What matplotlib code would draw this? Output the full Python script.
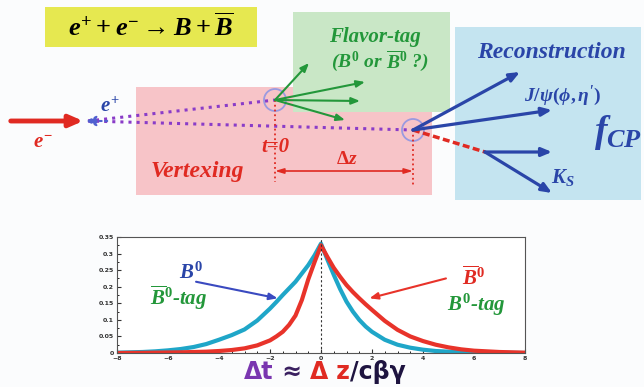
import matplotlib
matplotlib.use("Agg")
import matplotlib.pyplot as plt
from matplotlib.patches import Rectangle, Circle

plt.rcParams['mathtext.fontset'] = 'custom'
plt.rcParams['mathtext.rm'] = 'Liberation Serif:bold'
plt.rcParams['mathtext.it'] = 'Liberation Serif:bold:italic'
plt.rcParams['mathtext.bf'] = 'Liberation Serif:bold'

# ---- data ----
dt = [-8, -7.5, -7, -6.5, -6, -5.5, -5, -4.5, -4, -3.5, -3, -2.5, -2, -1.75, -1.5,
      -1.25, -1, -0.75, -0.5, -0.25, 0, 0.25, 0.5, 0.75, 1, 1.25, 1.5, 1.75, 2,
      2.5, 3, 3.5, 4, 4.5, 5, 5.5, 6, 6.5, 7, 7.5, 8]
b0_antitag = [0.001, 0.002, 0.003, 0.005, 0.008, 0.012, 0.018, 0.027, 0.040, 0.054,
              0.071, 0.098, 0.134, 0.154, 0.175, 0.195, 0.215, 0.240, 0.265, 0.295,
              0.330, 0.282, 0.236, 0.193, 0.155, 0.125, 0.100, 0.080, 0.064, 0.040,
              0.025, 0.016, 0.010, 0.006, 0.004, 0.003, 0.002, 0.0015, 0.001, 0.0005,
              0.000]
b0bar_tag = [0.000, 0.0003, 0.0005, 0.001, 0.0015, 0.002, 0.003, 0.004, 0.006, 0.009,
             0.014, 0.023, 0.038, 0.050, 0.064, 0.085, 0.113, 0.160, 0.222, 0.275,
             0.325, 0.290, 0.257, 0.230, 0.205, 0.184, 0.165, 0.147, 0.130, 0.097,
             0.070, 0.050, 0.036, 0.025, 0.017, 0.011, 0.007, 0.005, 0.003, 0.002,
             0.001]
xticks = [-8, -6, -4, -2, 0, 2, 4, 6, 8]
yticks = [0, 0.05, 0.1, 0.15, 0.2, 0.25, 0.3, 0.35]
ytick_labels = ['0', '0.05', '0.1', '0.15', '0.2', '0.25', '0.3', '0.35']

W, H = 644, 387
fig = plt.figure(figsize=(W / 100, H / 100), dpi=100, facecolor='#fbfcfd')
ax0 = fig.add_axes([0, 0, 1, 1])
ax0.set_xlim(0, W)
ax0.set_ylim(H, 0)
ax0.axis('off')
ax0.set_facecolor('none')

RED = '#e02a22'
BLUE = '#2a45a8'
GREEN = '#23973a'
PURPLE = '#8a3cc8'
SERIF = dict(family='Liberation Serif', weight='bold', style='italic')

# boxes
ax0.add_patch(Rectangle((45, 7), 212, 40, fc='#e6e850', ec='none'))
ax0.add_patch(Rectangle((136, 87), 296, 108, fc='#f7c4c8', ec='none'))
ax0.add_patch(Rectangle((293, 12), 157, 100, fc='#c9e7c6', ec='none'))
ax0.add_patch(Rectangle((455, 27), 186, 173, fc='#c4e4f0', ec='none'))

ax0.text(151, 28, r'$e^{+}+e^{-}\rightarrow B+\overline{B}$', fontsize=19,
         ha='center', va='center', color='black')

# beams
ax0.annotate('', xy=(86, 121), xytext=(8, 121),
             arrowprops=dict(arrowstyle='-|>,head_length=0.8,head_width=0.35',
                             color=RED, lw=3.5))
ax0.plot([88, 275], [121, 100], ls=':', color=PURPLE, lw=2.2)
ax0.plot([88, 413], [121, 130], ls=':', color=PURPLE, lw=2.2)
ax0.annotate('', xy=(83, 121), xytext=(110, 121),
             arrowprops=dict(arrowstyle='-|>,head_length=0.6,head_width=0.3',
                             color='#5060d0', lw=1.5, ls=':'))
ax0.text(110, 106, r'$e^{+}$', fontsize=15, color=BLUE, ha='center', va='center')
ax0.text(43, 142, r'$e^{-}$', fontsize=15, color=RED, ha='center', va='center')

# vertices
ax0.add_patch(Circle((275, 100), 11, fill=False, ec='#9a9ae0', lw=1.3))
ax0.add_patch(Circle((413, 130), 11, fill=False, ec='#9a9ae0', lw=1.3))

# flavour-tag tracks
for tip in [(309, 63), (365, 82), (360, 101), (345, 120)]:
    ax0.annotate('', xy=tip, xytext=(275, 100),
                 arrowprops=dict(arrowstyle='-|>,head_length=0.5,head_width=0.2',
                                 color=GREEN, lw=1.5, shrinkA=0, shrinkB=0))

# CP side tracks
for tip in [(520, 72), (552, 110)]:
    ax0.annotate('', xy=tip, xytext=(413, 130),
                 arrowprops=dict(arrowstyle='-|>,head_length=0.6,head_width=0.25',
                                 color=BLUE, lw=2.3, shrinkA=0, shrinkB=0))
ax0.plot([413, 485], [130, 152], ls='--', color=RED, lw=2.5, dashes=(2, 1))
for tip in [(552, 152), (552, 193)]:
    ax0.annotate('', xy=tip, xytext=(485, 152),
                 arrowprops=dict(arrowstyle='-|>,head_length=0.6,head_width=0.25',
                                 color=BLUE, lw=2.3, shrinkA=0, shrinkB=0))

# vertical markers and delta z
ax0.plot([275, 275], [100, 182], ls=':', color=RED, lw=1.3)
ax0.plot([413, 413], [130, 185], ls=':', color=RED, lw=1.3)
ax0.annotate('', xy=(413, 171), xytext=(275, 171),
             arrowprops=dict(arrowstyle='<|-|>,head_length=0.5,head_width=0.15',
                             color=RED, lw=1.2, shrinkA=0, shrinkB=0))

ax0.text(275, 147, 't=0', fontsize=15, color=RED, ha='center', va='center', **SERIF)
ax0.text(347, 159, r'$\Delta z$', fontsize=14, color=RED, ha='center', va='center')
ax0.text(197, 171, 'Vertexing', fontsize=17, color=RED, ha='center', va='center', **SERIF)

ax0.text(375, 37, 'Flavor-tag', fontsize=15, color=GREEN, ha='center', va='center', **SERIF)
ax0.text(380, 61, r'($B^{\mathit{0}}$ or $\overline{B}^{\mathit{0}}$ ?)', fontsize=14,
         color=GREEN, ha='center', va='center', **SERIF)
ax0.text(551, 53, 'Reconstruction', fontsize=17, color=BLUE, ha='center', va='center', **SERIF)
ax0.text(563, 96, r"$J/\psi(\phi,\eta')$", fontsize=14, color=BLUE, ha='center', va='center')
ax0.text(618, 133, r'$f_{CP}$', fontsize=27, color=BLUE, ha='center', va='center')
ax0.text(563, 178, r'$K_{S}$', fontsize=15, color=BLUE, ha='center', va='center')

# ---- decay-time plot ----
L, R_, T, B = 117, 525, 237, 353
ax = fig.add_axes([L / W, 1 - B / H, (R_ - L) / W, (B - T) / H])
ax.set_facecolor('white')
ax.plot(dt, b0_antitag, color='#1fa6c8', lw=3, solid_joinstyle='round')
ax.plot(dt, b0bar_tag, color='#e8332a', lw=3, solid_joinstyle='round')
ax.axvline(0, color='#333333', lw=0.8, ls=(0, (2, 2)))
ax.set_xlim(-8, 8)
ax.set_ylim(0, 0.35)
ax.set_xticks(xticks)
ax.set_xticks([v / 2 for v in range(-16, 17)], minor=True)
ax.set_yticks(yticks)
ax.set_yticklabels(ytick_labels)
ax.set_yticks([v * 0.025 for v in range(15)], minor=True)
ax.tick_params(axis='both', which='major', direction='in', labelsize=4.5, length=3,
               width=0.8, pad=2, colors='#333333')
ax.tick_params(axis='both', which='minor', direction='in', length=1.5, width=0.6)
for lab in ax.get_xticklabels() + ax.get_yticklabels():
    lab.set_fontweight('bold')
for s in ax.spines.values():
    s.set_color('#555555')
    s.set_linewidth(0.8)

ax.text(-5.1, 0.245, r'$B^{\mathit{0}}$', fontsize=15, color=BLUE, ha='center', va='center')
ax.text(-5.6, 0.165, r'$\overline{B}^{\mathit{0}}$-tag', fontsize=15, color=GREEN,
        ha='center', va='center', **SERIF)
ax.annotate('', xy=(-1.7, 0.165), xytext=(-4.9, 0.215),
            arrowprops=dict(arrowstyle='-|>,head_length=0.5,head_width=0.2',
                            color='#3a4ac0', lw=1.5, shrinkA=0, shrinkB=0))
ax.text(6.0, 0.23, r'$\overline{B}^{\mathit{0}}$', fontsize=15, color=RED,
        ha='center', va='center')
ax.text(6.1, 0.145, r'$B^{\mathit{0}}$-tag', fontsize=15, color=GREEN,
        ha='center', va='center', **SERIF)
ax.annotate('', xy=(1.9, 0.165), xytext=(4.9, 0.225),
            arrowprops=dict(arrowstyle='-|>,head_length=0.5,head_width=0.2',
                            color='#e8332a', lw=1.5, shrinkA=0, shrinkB=0))

# x label built from coloured pieces
pieces = [('\u0394t', '#7a36b0'), (' \u2248 ', '#3a2060'), ('\u0394', RED),
          (' z', RED), ('/c\u03b2\u03b3', '#1e1440')]
fig.canvas.draw()
rend = fig.canvas.get_renderer()
objs = []
total = 0
for txt, col in pieces:
    t = ax0.text(0, 372, txt, fontsize=17, color=col, ha='left', va='center',
                 family='DejaVu Sans', weight='bold')
    w = t.get_window_extent(rend).width
    objs.append((t, w))
    total += w
x0 = 325 - total / 2
for t, w in objs:
    t.set_x(x0)
    x0 += w

fig.savefig('out.png', dpi=100, facecolor=fig.get_facecolor())
